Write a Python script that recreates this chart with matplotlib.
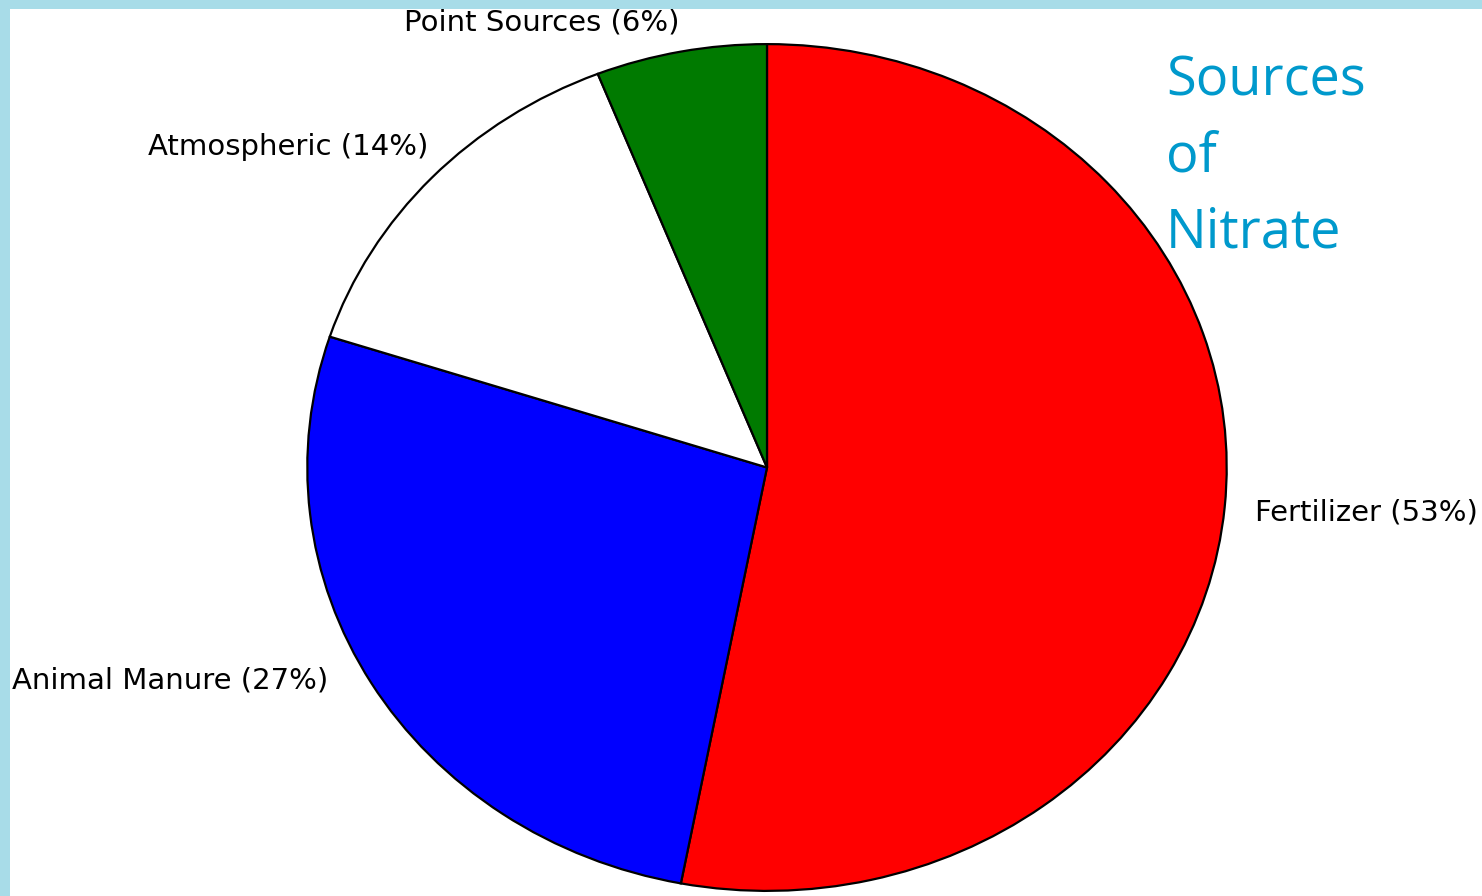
import matplotlib
matplotlib.use("Agg")
import matplotlib.pyplot as plt
from matplotlib.patches import Rectangle

categories = ["Fertilizer", "Animal Manure", "Atmospheric", "Point Sources"]
shares = [53, 27, 14, 6]
colors = ["#ff0000", "#0000ff", "#ffffff", "#007a00"]
title_lines = ["Sources", "of", "Nitrate"]

W, H = 1482, 896
fig = plt.figure(figsize=(W / 100, H / 100), dpi=100)
fig.patch.set_facecolor("white")

# pie bounding box in pixels
left, right, top, bottom = 305, 1229, 42, 893
ax = fig.add_axes([left / W, (H - bottom) / H, (right - left) / W, (bottom - top) / H])
ax.pie(shares, colors=colors, startangle=90, counterclock=False, radius=1,
       wedgeprops=dict(edgecolor="black", linewidth=1.6))
ax.set_xlim(-1.005, 1.005)
ax.set_ylim(-1.005, 1.005)
ax.set_aspect("auto")
ax.axis("off")

# labels (pixel positions: x, y-center, ha)
label_pos = [(1255, 512, "left"), (12, 680, "left"), (148, 147, "left"), (404, 22, "left")]
for cat, val, (x, y, ha) in zip(categories, shares, label_pos):
    fig.text(x / W, 1 - y / H, f"{cat} ({val}%)", ha=ha, va="center",
             fontsize=21, family="DejaVu Sans", color="black")

# title
for i, line in enumerate(title_lines):
    fig.text(1166 / W, 1 - (95 + 76 * i) / H, line, ha="left", va="baseline",
             fontsize=39, family="Open Sans", color="#0099cc")

# light-blue frame at top and left
fig.patches.append(Rectangle((0, 1 - 9 / H), 1, 9 / H, transform=fig.transFigure,
                             facecolor="#a8dce8", edgecolor="none"))
fig.patches.append(Rectangle((0, 0), 10 / W, 1, transform=fig.transFigure,
                             facecolor="#a8dce8", edgecolor="none"))

fig.savefig("out.png", dpi=100, facecolor="white")
